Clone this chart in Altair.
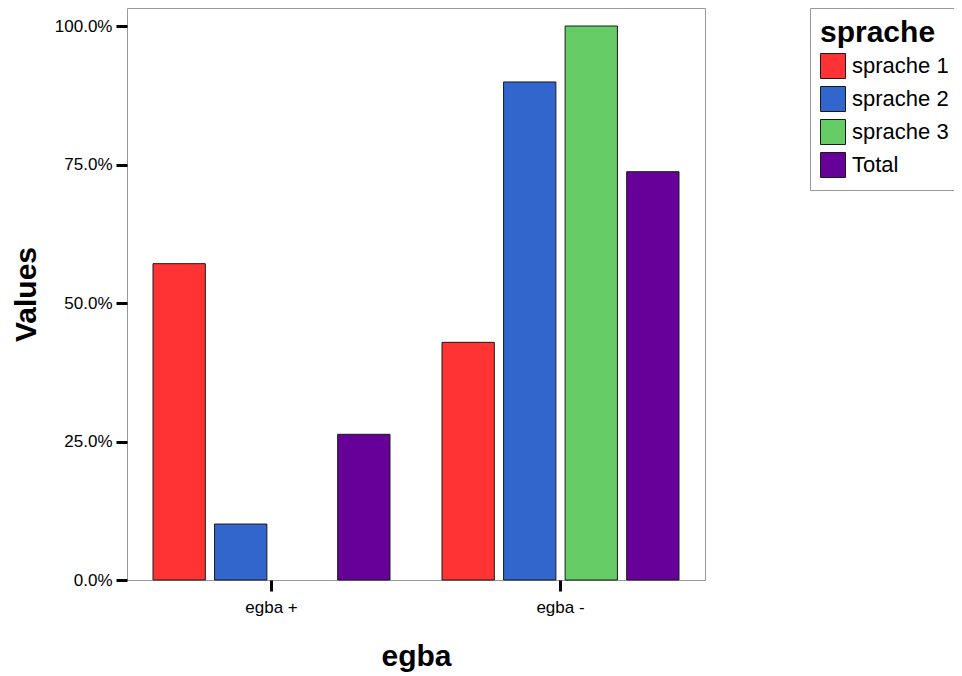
import altair as alt
import pandas as pd

groups = ["egba +", "egba +", "egba +", "egba -", "egba -", "egba -", "egba -"]
series = ["sprache 1", "sprache 2", "Total", "sprache 1", "sprache 2", "sprache 3", "Total"]
values = [0.571, 0.101, 0.263, 0.429, 0.899, 1.0, 0.737]

group_order = ["egba +", "egba -"]
series_order = ["sprache 1", "sprache 2", "sprache 3", "Total"]
colors = ["#FF3333", "#3366CC", "#66CC66", "#660099"]

df = pd.DataFrame({"egba": groups, "sprache": series, "value": values})

font = "Liberation Sans"

chart = alt.Chart(df).mark_bar(stroke="#1a1a1a", strokeWidth=1).encode(
    x=alt.X("egba:N", sort=group_order, title="egba",
            scale=alt.Scale(paddingInner=0.18, paddingOuter=0.09),
            axis=alt.Axis(labelAngle=0, tickSize=11, tickWidth=3, tickColor="black",
                          labelPadding=8, labelFontSize=17, labelFont=font, labelColor="black",
                          titleFontSize=30, titleFont=font, titleFontWeight="bold",
                          titlePadding=26, domain=False, titleColor="black")),
    xOffset=alt.XOffset("sprache:N", sort=series_order,
                        scale=alt.Scale(domain=series_order, paddingInner=0.15, paddingOuter=0)),
    y=alt.Y("value:Q", title="Values",
            scale=alt.Scale(domain=[0, 1.0325], nice=False),
            axis=alt.Axis(format=".1%", values=[0, 0.25, 0.5, 0.75, 1.0], grid=False,
                          tickSize=11, tickWidth=3, tickColor="black", labelPadding=4,
                          labelFontSize=17, labelFont=font, labelColor="black",
                          titleFontSize=30, titleFont=font, titleFontWeight="bold",
                          titlePadding=13, domain=False, titleColor="black")),
    color=alt.Color("sprache:N", sort=series_order,
                    scale=alt.Scale(domain=series_order, range=colors),
                    legend=alt.Legend(title="sprache", orient="none", legendX=683, legendY=0,
                                      titleFontSize=30, titleFont=font, titleFontWeight="bold",
                                      titleColor="black", titlePadding=5,
                                      labelFontSize=22, labelFont=font, labelColor="black",
                                      symbolType="square", symbolSize=625, symbolStrokeColor="#1a1a1a",
                                      symbolStrokeWidth=1, symbolOpacity=1, rowPadding=3,
                                      labelOffset=6, strokeColor="#999999", fillColor="white",
                                      padding=10, offset=0)),
).properties(
    width=578, height=572,
    autosize=alt.AutoSizeParams(type="none"),
    padding={"left": 119, "top": 0, "right": 249, "bottom": 96},
).configure_view(stroke="#999999", strokeWidth=1)

chart.save("out.html", embed_options={"renderer": "svg", "actions": False})
